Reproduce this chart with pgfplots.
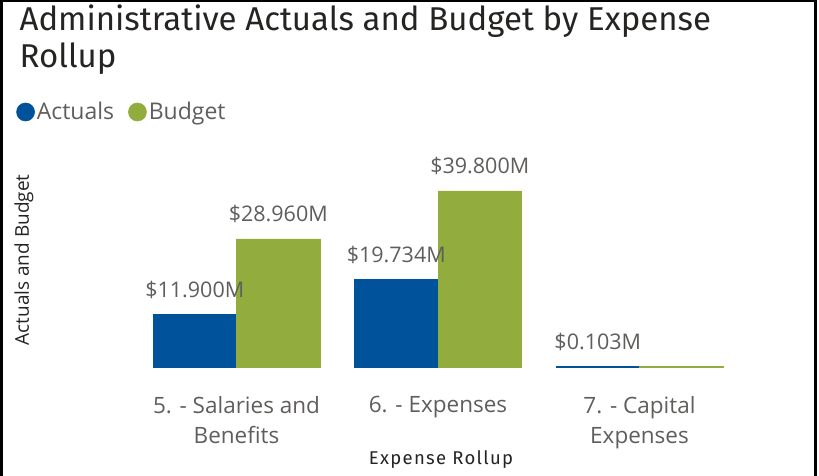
\documentclass[border=0pt]{standalone}
\usepackage{pgfplots}
\pgfplotsset{compat=1.18}
\usepackage{fontspec}
\setmainfont{Open Sans}
\newfontfamily\titlefont{Fira Sans}
\newfontfamily\xlabfont[LetterSpace=7]{Fira Sans}
\definecolor{actblue}{RGB}{0,82,155}
\definecolor{budgreen}{RGB}{146,172,62}
\definecolor{lblgray}{RGB}{96,94,92}
\definecolor{titlegray}{RGB}{37,36,35}
\begin{document}
\begin{tikzpicture}
\useasboundingbox (0,0) rectangle (819pt,476pt);
\begin{axis}[
  at={(135.75pt,109pt)}, anchor=south west,
  scale only axis, width=604.5pt, height=199pt,
  xmin=-0.5, xmax=2.5, ymin=0, ymax=45,
  clip=false,
  axis line style={draw=none},
  tick style={draw=none},
  ybar=0pt, bar width=83.5pt,
  xtick={0,1,2},
  xticklabels={{5. - Salaries and\\Benefits},{6. - Expenses},{7. - Capital\\Expenses}},
  ytick=\empty,
  major tick length=0pt,
  xticklabel style={font=\fontsize{22.5}{30}\selectfont, text=lblgray, align=center, yshift=-26pt},
  title={Administrative Actuals and Budget by Expense\\Rollup},
  title style={at={(axis description cs:-0.198,1.81)}, anchor=north west, align=left, font=\titlefont\fontsize{33}{37}\selectfont, text=titlegray},
  xlabel={Expense Rollup},
  ylabel={Actuals and Budget},
  every axis x label/.style={at={(axis description cs:0.505,-0.467)}, anchor=center, font=\xlabfont\fontsize{18.5}{20}\selectfont, text=titlegray},
  every axis y label/.style={at={(axis description cs:-0.185,0.538)}, anchor=center, rotate=90, font=\fontsize{19}{20}\selectfont, text=titlegray},
  legend style={at={(axis description cs:-0.198,1.2814)}, anchor=west, draw=none, fill=none, legend columns=2, font=\fontsize{23}{26}\selectfont, text=lblgray, /tikz/every even column/.append style={column sep=12pt}, inner sep=0pt},
  legend image code/.code={\fill[#1] (4pt,0pt) circle (9pt);},
  point meta=explicit symbolic,
  nodes near coords,
  every node near coord/.append style={anchor=base, yshift=17pt, font=\fontsize{21.5}{24}\selectfont, text=lblgray},
]
\addplot[fill=actblue, draw=actblue, line width=0.6pt, bar shift=-41.75pt] coordinates {(0,11.900) [\$11.900M] (1,19.734) [\$19.734M] (2,0.103) [\$0.103M]};
\addlegendentry{Actuals}
\addplot[fill=budgreen, draw=budgreen, line width=0.6pt, bar shift=41.75pt] coordinates {(0,28.960) [\$28.960M] (1,39.800) [\$39.800M]};
\addlegendentry{Budget}
\addplot[fill=budgreen, draw=budgreen, line width=0.6pt, bar shift=41.75pt, forget plot, nodes near coords={}] coordinates {(2,0.100) [{}]};
\end{axis}
\draw[black, line width=3pt] (1.5pt,0pt) -- (1.5pt,475pt) -- (815pt,475pt) -- (815pt,0pt);
\end{tikzpicture}
\end{document}
